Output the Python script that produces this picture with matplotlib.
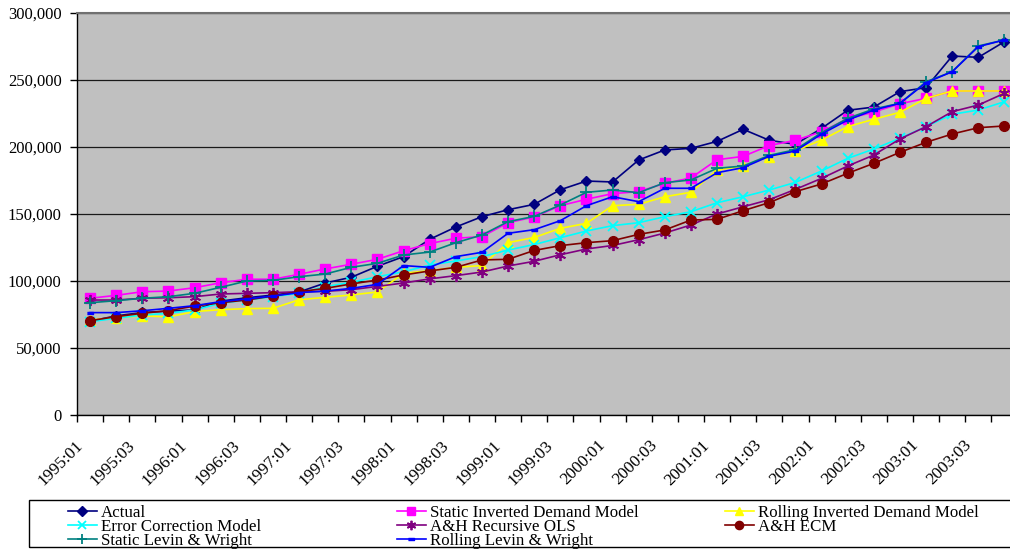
import numpy as np
import matplotlib.pyplot as plt
from matplotlib.lines import Line2D
from matplotlib.patches import Rectangle
from matplotlib.ticker import StrMethodFormatter
import matplotlib.transforms as mtransforms

plt.rcParams['font.family'] = ['Liberation Serif', 'DejaVu Serif']

# quarterly periods 1995:01 .. 2003:04
years = list(range(1995, 2004))
periods = ['%d:%02d' % (y, q) for y in years for q in (1, 2, 3, 4)]

actual = [70000, 74000, 76500, 77500, 78400, 85000, 87500, 89500, 91800, 98500,
          102800, 111000, 118200, 131100, 140300, 148000, 153200, 157200, 168100, 174600,
          173900, 190300, 197800, 199000, 204200, 213200, 205000, 202000, 213900, 227400,
          229800, 241300, 244300, 267900, 266900, 278600]
static_inv = [87100, 89300, 92000, 92500, 95000, 98700, 101300, 101300, 105000, 109000,
              112500, 116200, 122600, 127900, 131900, 133100, 143500, 147800, 156200, 161000,
              165200, 166700, 172900, 176900, 190500, 193000, 201100, 205000, 211400, 221100,
              226100, 232300, 236300, 241800, 241800, 241800]
rolling_inv = [71000, 72500, 74000, 73200, 77200, 78600, 79400, 79600, 86000, 87800,
               89600, 91800, 105700, 107700, 110200, 111500, 128600, 132500, 139300, 143000,
               156200, 157200, 162900, 166200, 182800, 185800, 192800, 197200, 205200, 215200,
               220700, 225900, 236300, 241800, 241800, 241800]
ecm = [69600, 72200, 74600, 75900, 78400, 83400, 85800, 88300, 90800, 95800,
       99000, 103200, 106900, 111900, 114900, 118200, 123100, 127200, 132300, 137300,
       141300, 143500, 148000, 151700, 158400, 162900, 167900, 173600, 182100, 191500,
       198500, 206500, 215200, 224400, 227600, 233800]
ah_ols = [85800, 85800, 87100, 87500, 88300, 90300, 90800, 91300, 92000, 92300,
          93500, 96000, 98500, 101600, 104000, 106700, 111200, 114700, 119600, 123900,
          126500, 130800, 135800, 141800, 150000, 155400, 160700, 168400, 176600, 185800,
          194000, 206000, 215200, 226400, 231300, 240100]
ah_ecm = [70400, 73400, 75900, 77900, 81300, 83800, 85800, 88800, 92000, 94500,
          97800, 100700, 104500, 107500, 110200, 115700, 116200, 122800, 126400, 128600,
          130100, 134800, 138100, 145500, 146000, 152500, 158500, 166700, 172400, 180400,
          187800, 196000, 203500, 209700, 214400, 215700]
static_lw = [83800, 85300, 87100, 88300, 90800, 95300, 100000, 100500, 103200, 105200,
             110200, 113200, 119400, 121600, 128600, 134300, 144300, 148200, 156700, 166200,
             167900, 165900, 173400, 175400, 184100, 185800, 193800, 198000, 210700, 221400,
             228400, 232600, 248700, 256200, 275400, 279900]
rolling_lw = [76400, 76400, 77800, 79600, 81600, 84600, 86600, 88800, 91300, 92500,
              94500, 97500, 111500, 110200, 118200, 121400, 135600, 138300, 145000, 156200,
              162900, 159200, 169200, 169200, 180800, 184600, 193100, 197000, 209700, 220100,
              227600, 232600, 248000, 256200, 274900, 279900]

dash = [(-1, -0.35), (1, -0.35), (1, 0.35), (-1, 0.35)]
series = [
    ('Actual', actual, '#000080', 'D', 5.5),
    ('Static Inverted Demand Model', static_inv, '#FF00FF', 's', 6.5),
    ('Rolling Inverted Demand Model', rolling_inv, '#FFFF00', '^', 7),
    ('Error Correction Model', ecm, '#00FFFF', 'x', 6.5),
    ('A&H Recursive OLS', ah_ols, '#800080', (6, 2, 0), 8),
    ('A&H ECM', ah_ecm, '#800000', 'o', 7),
    ('Static Levin & Wright', static_lw, '#008080', '+', 8),
    ('Rolling Levin & Wright', rolling_lw, '#0000FF', dash, 5),
]

fig = plt.figure(figsize=(10.10, 5.52), dpi=100)
ax = fig.add_axes([77 / 1010, 1 - 415 / 552, 940.5 / 1010, 402 / 552])
ax.set_facecolor('#C0C0C0')

x = np.arange(len(periods)) + 0.5
handles = {}
for k, (name, vals, col, mk, ms) in enumerate(series):
    mew = 1.3 if mk in ('x', '+') or isinstance(mk, tuple) else 1
    ln, = ax.plot(x, vals, color=col, lw=1.2, marker=mk, ms=ms, mec=col, mfc=col,
                  mew=mew, zorder=3 + k, clip_on=False)
    handles[name] = ln

ax.set_xlim(0, len(periods))
ax.set_ylim(0, 300000)
ax.set_yticks(np.arange(0, 300001, 50000))
ax.yaxis.set_major_formatter(StrMethodFormatter('{x:,.0f}'))
ax.grid(axis='y', color='#1a1a1a', lw=0.9)
ax.set_axisbelow(True)

# tick marks at category boundaries, labels at every second category centre
ax.set_xticks(np.arange(0, len(periods) + 1))
ax.set_xticklabels([])
ax.set_xticks(x[::2], minor=True)
ax.set_xticklabels(periods[::2], minor=True, rotation=45, ha='right', fontsize=12.4)
ax.tick_params(axis='x', which='minor', length=0, pad=16)
ax.tick_params(axis='x', which='major', length=5, width=1, color='black')
ax.tick_params(axis='y', length=5, width=1, pad=6, labelsize=12)
shift = mtransforms.ScaledTranslation(-4 / 100, 0, fig.dpi_scale_trans)
for lab in ax.get_xticklabels(minor=True):
    lab.set_transform(lab.get_transform() + shift)

for s in ('left', 'bottom'):
    ax.spines[s].set_color('black')
    ax.spines[s].set_linewidth(1)
ax.spines['top'].set_color('#707070')
ax.spines['top'].set_linewidth(1.5)
ax.spines['right'].set_visible(False)

# legend box with three columns, filled row by row
fig.add_artist(Rectangle((29 / 1010, 1 - 547 / 552), 1000 / 1010, 47 / 552,
                         transform=fig.transFigure, fill=False, ec='black', lw=1))
columns = [
    (68, ['Actual', 'Error Correction Model', 'Static Levin & Wright']),
    (397, ['Static Inverted Demand Model', 'A&H Recursive OLS', 'Rolling Levin & Wright']),
    (725, ['Rolling Inverted Demand Model', 'A&H ECM']),
]
for xpos, names in columns:
    hs = []
    for nm in names:
        h = handles[nm]
        hs.append(Line2D([], [], color=h.get_color(), lw=1.2, marker=h.get_marker(),
                         ms=h.get_markersize() * 0.85, mec=h.get_color(), mfc=h.get_color(),
                         mew=h.get_markeredgewidth()))
    fig.legend(hs, names, loc='upper left', bbox_to_anchor=(xpos / 1010, 1 - 505 / 552),
               frameon=False, fontsize=12.2, borderpad=0, borderaxespad=0,
               handlelength=1.7, handletextpad=0.25, labelspacing=-0.12, numpoints=1)

fig.savefig('out.png', dpi=100)
plt.close(fig)
